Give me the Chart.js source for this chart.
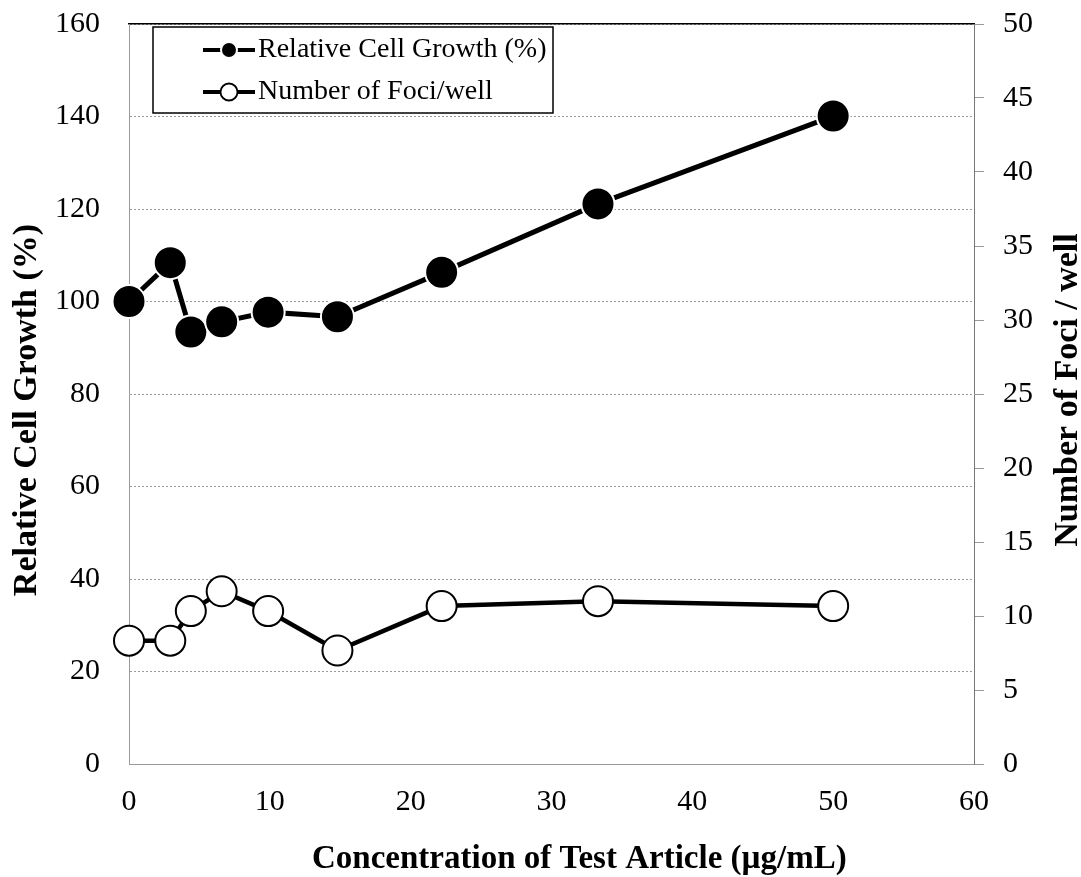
<!DOCTYPE html>
<html><head><meta charset="utf-8">
<script src="https://cdn.jsdelivr.net/npm/chart.js@4"></script>
<style>html,body{margin:0;padding:0;background:#fff}#wrap{width:1081px;height:877px}</style>
</head><body><div id="wrap"><canvas id="c" width="1081" height="877"></canvas></div>
<script>
// ---- data ----
const concentrations = [0, 2.93, 4.39, 6.58, 9.88, 14.8, 22.2, 33.3, 50];
const relativeGrowth = [100, 108.4, 93.4, 95.6, 97.7, 96.7, 106.3, 121.1, 140.1];
const fociPerWell = [8.33, 8.33, 10.33, 11.67, 10.33, 7.67, 10.67, 11.0, 10.67];
const xTicks = [0, 10, 20, 30, 40, 50, 60];
const leftTicks = [0, 20, 40, 60, 80, 100, 120, 140, 160];
const rightTicks = [0, 5, 10, 15, 20, 25, 30, 35, 40, 45, 50];
const seriesLabels = ['Relative Cell Growth (%)', 'Number of Foci/well'];
const xTitle = 'Concentration of Test Article (\u00b5g/mL)';
const yTitle = 'Relative Cell Growth (%)';
const y2Title = 'Number of Foci / well';

const FONT = '"Liberation Serif", "Times New Roman", serif';
const GRID = '#9a9a9a';

const titlesPlugin = {
  id: 'titles',
  afterDraw(chart) {
    const ctx = chart.ctx;
    ctx.save();
    ctx.fillStyle = '#000';
    ctx.textBaseline = 'alphabetic';
    ctx.font = 'bold 33px ' + FONT;
    ctx.textAlign = 'left';
    ctx.fillText(xTitle, 312, 868);
    ctx.font = 'bold 34px ' + FONT;
    ctx.textAlign = 'center';
    ctx.save();
    ctx.translate(36, 410);
    ctx.rotate(-Math.PI / 2);
    ctx.fillText(yTitle, 0, 0);
    ctx.restore();
    ctx.save();
    ctx.translate(1077, 390);
    ctx.rotate(-Math.PI / 2);
    ctx.fillText(y2Title, 0, 0);
    ctx.restore();
    ctx.restore();
  }
};

const legendPlugin = {
  id: 'boxLegend',
  afterDraw(chart) {
    const ctx = chart.ctx;
    const x0 = 153, y0 = 27, w = 400, h = 86;
    ctx.save();
    ctx.fillStyle = '#fff';
    ctx.fillRect(x0, y0, w, h);
    ctx.strokeStyle = '#000';
    ctx.lineWidth = 1.5;
    ctx.strokeRect(x0, y0, w, h);
    const rows = [50, 92];
    chart.data.datasets.forEach((ds, i) => {
      const y = rows[i];
      ctx.strokeStyle = '#000';
      ctx.lineWidth = 4;
      ctx.beginPath();
      ctx.moveTo(203, y); ctx.lineTo(255, y);
      ctx.stroke();
      ctx.beginPath();
      ctx.arc(229, y, i === 0 ? 8 : 8.5, 0, Math.PI * 2);
      ctx.fillStyle = i === 0 ? '#000' : '#fff';
      ctx.fill();
      ctx.lineWidth = i === 0 ? 2 : 1.8;
      ctx.strokeStyle = i === 0 ? '#fff' : '#000';
      ctx.stroke();
      ctx.fillStyle = '#000';
      ctx.font = '28px ' + FONT;
      ctx.textAlign = 'left';
      ctx.textBaseline = 'middle';
      ctx.fillText(ds.label, 258, y);
    });
    ctx.restore();
  }
};

new Chart(document.getElementById('c'), {
  type: 'scatter',
  data: {
    datasets: [
      {
        label: seriesLabels[0],
        data: concentrations.map((x, i) => ({ x, y: relativeGrowth[i] })),
        yAxisID: 'y',
        showLine: true,
        clip: false,
        borderColor: '#000',
        borderWidth: 5,
        pointRadius: 16.5,
        pointBackgroundColor: '#000',
        pointBorderColor: '#fff',
        pointBorderWidth: 2,
        order: 1
      },
      {
        label: seriesLabels[1],
        data: concentrations.map((x, i) => ({ x, y: fociPerWell[i] })),
        yAxisID: 'y2',
        showLine: true,
        clip: false,
        borderColor: '#000',
        borderWidth: 4.5,
        pointRadius: 15,
        pointBackgroundColor: '#fff',
        pointBorderColor: '#000',
        pointBorderWidth: 2,
        order: 2
      }
    ]
  },
  options: {
    responsive: false,
    animation: false,
    devicePixelRatio: 1,
    layout: { padding: { top: 24, left: 0, right: 0, bottom: 0 } },
    plugins: { legend: { display: false }, tooltip: { enabled: false } },
    scales: {
      x: {
        type: 'linear', min: 0, max: 60,
        afterBuildTicks: s => { s.ticks = xTicks.map(v => ({ value: v })); },
        afterFit: s => { s.height = 113; },
        grid: { display: false, drawTicks: false },
        border: { display: true, color: GRID, width: 1 },
        ticks: { font: { family: FONT, size: 30 }, color: '#000', padding: 20, maxRotation: 0 }
      },
      xTop: {
        type: 'linear', position: 'top', min: 0, max: 60,
        afterFit: s => { s.height = 0; },
        grid: { display: false, drawTicks: false },
        border: { display: true, color: '#000', width: 1.5 },
        ticks: { display: false }
      },
      y: {
        position: 'left', min: 0, max: 160,
        afterBuildTicks: s => { s.ticks = leftTicks.map(v => ({ value: v })); },
        afterFit: s => { s.width = 129; },
        grid: { drawTicks: true, tickLength: 29, tickColor: 'rgba(0,0,0,0)', color: GRID, lineWidth: 1 },
        border: { display: true, color: GRID, width: 1, dash: [2, 2] },
        ticks: { font: { family: FONT, size: 30 }, color: '#000', padding: 0 }
      },
      y2: {
        position: 'right', min: 0, max: 50,
        afterBuildTicks: s => { s.ticks = rightTicks.map(v => ({ value: v })); },
        afterFit: s => { s.width = 107; },
        grid: { drawOnChartArea: false, drawTicks: true, tickLength: 29, color: GRID, tickBorderDash: [9, 60] },
        border: { display: true, color: '#777', width: 1 },
        ticks: { font: { family: FONT, size: 30 }, color: '#000', padding: 0 }
      }
    }
  },
  plugins: [titlesPlugin, legendPlugin]
});
</script>
</body></html>
